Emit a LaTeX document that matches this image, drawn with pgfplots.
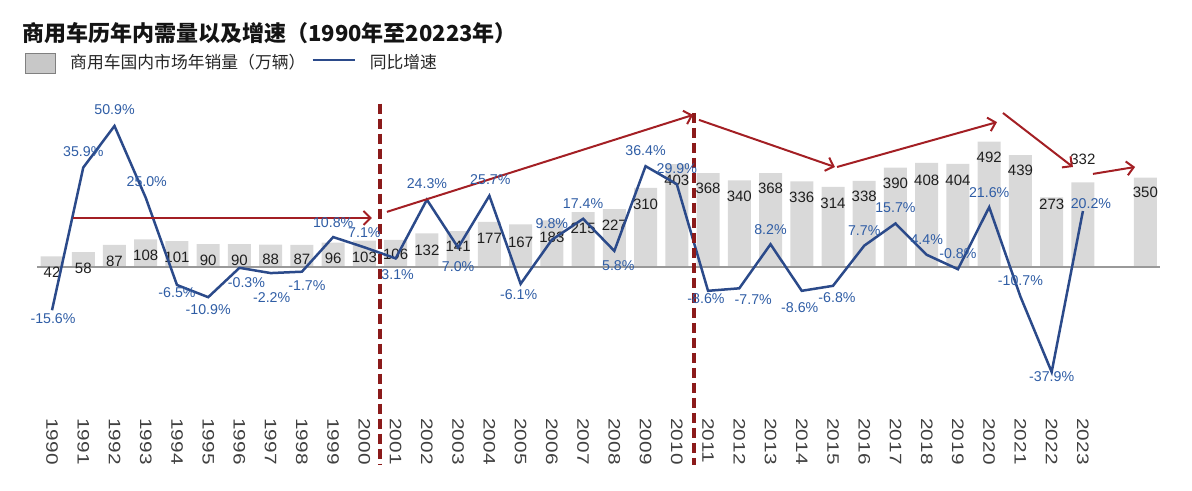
\documentclass[border=0pt]{standalone}
\usepackage{fontspec}
\setmainfont{Liberation Sans}
\newfontfamily\cjk{Noto Sans CJK SC}
\usepackage{graphicx}
\usepackage{pgfplots}
\pgfplotsset{compat=1.18}
\usepackage{pgfplotstable}
\usetikzlibrary{arrows.meta}
\definecolor{barfill}{HTML}{D9D9D9}
\definecolor{lineblue}{HTML}{2B4A8A}
\definecolor{lblblue}{HTML}{2F5DA5}
\definecolor{darkred}{HTML}{8B1A1A}
\definecolor{arrowred}{HTML}{A31F24}
\newcommand\yr[1]{\scalebox{1.25}[1]{#1}}

\pgfplotstableread{
x y dy
0 42 -16
1 58 -16
2 87 -17
3 108 -15.5
4 101 -16
5 90 -16
6 90 -16
7 88 -15
8 87 -15
9 96 -15.5
10 103 -17
11 106 -14
12 132 -17
13 141 -15
14 177 -16
15 167 -17.5
16 183 -17
17 215 -16
18 227 -16
19 310 -16
20 403 -16
21 368 -15
22 340 -16
23 368 -15
24 336 -16
25 314 -16
26 338 -16
27 390 -15.5
28 408 -17
29 404 -16
30 492 -15.5
31 439 -15
32 273 -7
33 332 23
35 350 -15
}\salesdata

\pgfplotstableread{
x g dx dy
0 -15.6 1 -8
1 35.9 0 16
2 50.9 0 16
3 25.0 1 16
4 -6.5 0 -8
5 -10.9 0 -12
6 -0.3 7 -15
7 -2.2 1 -24
8 -1.7 5 -14
9 10.8 0 14
10 7.1 0 15
11 3.1 2 -16
12 24.3 0 16
13 7.0 0 -19
14 25.7 1 16
15 -6.1 -2 -11
16 9.8 0 16
17 17.4 0 15
18 5.8 4 -15
19 36.4 0 16
20 29.9 0 16
21 -8.6 -2 -8
22 -7.7 14 -11
23 8.2 0 15
24 -8.6 -2 -17
25 -6.8 4 -12
26 7.7 0 15
27 15.7 0 16
28 4.4 0 15
29 -0.8 0 16
30 21.6 0 15
31 -10.7 0 16
32 -37.9 0 -5
33 20.2 8 7
}\growthdata

\begin{document}
\begin{tikzpicture}
\useasboundingbox (0,0) rectangle (596pt,245.5pt);
\begin{axis}[
  at={(18.2pt,42.75pt)}, anchor=south west,
  scale only axis, width=562.3pt, height=155.12pt,
  xmin=-0.5, xmax=35.5, ymin=-543.1, ymax=673.5,
  axis line style={draw=none}, ytick=\empty,
  xtick={0,...,33},
  xticklabels={\yr{1990},\yr{1991},\yr{1992},\yr{1993},\yr{1994},\yr{1995},\yr{1996},\yr{1997},\yr{1998},\yr{1999},\yr{2000},\yr{2001},\yr{2002},\yr{2003},\yr{2004},\yr{2005},\yr{2006},\yr{2007},\yr{2008},\yr{2009},\yr{2010},\yr{2011},\yr{2012},\yr{2013},\yr{2014},\yr{2015},\yr{2016},\yr{2017},\yr{2018},\yr{2019},\yr{2020},\yr{2021},\yr{2022},\yr{2023}},
  major tick length=0pt,
  xticklabel style={rotate=-90, anchor=west, inner sep=0pt, font=\fontsize{8.3}{10}\selectfont, text=black!75},
  xticklabel shift=6.25pt,
  clip=false,
  title={\cjk\bfseries 商用车历年内需量以及增速（1990年至20223年）},
  title style={at={(-0.0128,1.2007)}, anchor=west, yshift=-6pt, inner sep=0pt, font=\fontsize{11}{13}\selectfont, text=black!92},
  legend style={at={(-0.0101,1.104)}, anchor=west, draw=none, fill=none, inner sep=0pt,
    font=\cjk\fontsize{8.4}{10}\selectfont, text=black!85,
    /tikz/every odd column/.append style={column sep=5pt},
    /tikz/every even column/.append style={column sep=1pt}},
  legend columns=2, legend cell align=left,
]
\addlegendimage{legend image code/.code={\draw[fill=barfill!92!black, draw=gray] (0pt,-5pt) rectangle (15pt,5pt);}}
\addlegendentry{商用车国内市场年销量（万辆）}
\addlegendimage{legend image code/.code={\draw[lineblue, line width=1.2pt] (0pt,1.5pt) -- (21pt,1.5pt);}}
\addlegendentry{同比增速}
\addplot[ybar, bar width=11.5pt, bar shift=0pt, fill=barfill, draw=none,
  nodes near coords={\pgfmathprintnumber[assume math mode=true]{\pgfplotspointmeta}},
  visualization depends on={\thisrow{dy}\as\ldy},
  every node near coord/.append style={anchor=center, inner sep=0.5pt, yshift=\ldy*0.5pt, font=\fontsize{7.5}{9}\selectfont, text=black!88}]
  table[x=x, y=y]{\salesdata};
\draw[gray!80, line width=0.6pt] (-0.48,0) -- (35.47,0);
\end{axis}
\begin{axis}[
  at={(18.2pt,42.75pt)}, anchor=south west,
  scale only axis, width=562.3pt, height=155.12pt,
  xmin=-0.5, xmax=35.5, ymin=-50, ymax=62,
  hide axis, clip=false,
]
\addplot[lineblue, line width=1.25pt, mark=none,
  nodes near coords={\pgfmathprintnumber[fixed, fixed zerofill, precision=1, assume math mode=true]{\pgfplotspointmeta}\%},
  visualization depends on={\thisrow{dx}\as\ldx},
  visualization depends on={\thisrow{dy}\as\ldy},
  every node near coord/.append style={anchor=center, inner sep=0.5pt, xshift=\ldx*0.5pt, yshift=\ldy*0.5pt, font=\fontsize{7.1}{8}\selectfont, text=lblblue}]
  table[x=x, y=g]{\growthdata};
\draw[darkred, line width=1.7pt, dash pattern=on 5pt off 2.5pt] (10.5,59) -- (10.5,-71.5);
\draw[darkred, line width=1.7pt, dash pattern=on 5pt off 2.5pt] (20.55,55.6) -- (20.55,-71.5);
\begin{scope}[arrowred, line width=1pt, -{Straight Barb[length=3.5pt,width=7pt]}]
\draw (0.67,17.7) -- (10.24,17.7);
\draw (10.72,19.9) -- (20.52,54.9);
\draw (20.71,53.1) -- (25.06,36.1);
\draw (25.13,36.1) -- (30.25,52.3);
\draw (30.44,55.6) -- (32.68,36.1);
\draw (33.32,33.6) -- (34.67,36.1);
\end{scope}
\end{axis}
\end{tikzpicture}
\end{document}
